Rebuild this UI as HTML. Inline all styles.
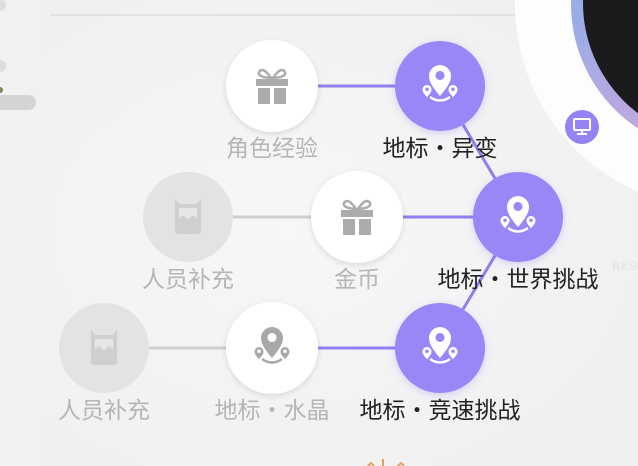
<!DOCTYPE html>
<html><head><meta charset="utf-8"><style>
html,body{margin:0;padding:0;width:638px;height:466px;overflow:hidden;background:#f3f3f4}
text{font-family:"Liberation Sans","Noto Sans CJK SC",sans-serif;font-size:23px;text-anchor:middle}
</style></head><body>
<svg width="638" height="466" viewBox="0 0 638 466" xmlns="http://www.w3.org/2000/svg">
<defs>
<radialGradient id="bg" cx="0.45" cy="0.5" r="0.7"><stop offset="0" stop-color="#f7f7f8"/><stop offset="1" stop-color="#efeff0"/></radialGradient>
<linearGradient id="ring" x1="0" y1="0" x2="0.6" y2="1"><stop offset="0" stop-color="#6fb4ef"/><stop offset="1" stop-color="#d7a3dc"/></linearGradient>
<filter id="sh" x="-30%" y="-30%" width="160%" height="160%"><feDropShadow dx="0" dy="2" stdDeviation="3" flood-color="#000" flood-opacity="0.12"/></filter>
<filter id="shp" x="-30%" y="-30%" width="160%" height="160%"><feDropShadow dx="0" dy="2" stdDeviation="4" flood-color="#8a70f0" flood-opacity="0.3"/></filter>
<g id="pin">
<path fill-rule="evenodd" stroke="none" d="M0,-21 a11,11 0 0 1 11,11 c0,7 -6,14 -11,20 c-5,-6 -11,-13 -11,-20 a11,11 0 0 1 11,-11z M0,-15 a4.5,4.5 0 1 0 0.01,0z"/>
<path fill-rule="evenodd" stroke="none" d="M-13,-1 a4.5,4.5 0 0 1 4.5,4.5 c0,3 -2.5,5 -4.5,8 c-2,-3 -4.5,-5 -4.5,-8 a4.5,4.5 0 0 1 4.5,-4.5z M-13,1.5 a1.8,1.8 0 1 0 0.01,0z"/>
<path fill-rule="evenodd" stroke="none" d="M13,-1 a4.5,4.5 0 0 1 4.5,4.5 c0,3 -2.5,5 -4.5,8 c-2,-3 -4.5,-5 -4.5,-8 a4.5,4.5 0 0 1 4.5,-4.5z M13,1.5 a1.8,1.8 0 1 0 0.01,0z"/>
<path d="M-10,11 q10,7 20,0" fill="none" stroke-width="2.4"/>
</g>
<g id="gift" fill="#acacac">
<rect x="-16" y="-7" width="32" height="7"/>
<rect x="-14" y="2" width="12" height="16"/><rect x="2" y="2" width="12" height="16"/>
<path d="M-1,-8 q-8,-12 -12,-6 q-2,5 12,6z M1,-8 q8,-12 12,-6 q2,5 -12,6z" fill="none" stroke="#acacac" stroke-width="2.5"/>
</g>
<g id="card" fill="#cfcfcf">
<path d="M-13,-18 l4,5 h18 l4,-5 v32 a3,3 0 0 1 -3,3 h-20 a3,3 0 0 1 -3,-3z"/>
<rect x="-9" y="-9" width="18" height="20" fill="#e6e6e6"/>
<path d="M-9,11 v-9 l4,-4 l4,4 h2 l4,-4 l4,4 v9z" fill="#cfcfcf"/>
</g>
</defs>
<rect width="638" height="466" fill="url(#bg)"/>
<rect x="0" y="0" width="42" height="466" fill="#f1f1f2"/>
<circle cx="0" cy="5" r="6" fill="#ddd"/>
<circle cx="0" cy="66" r="6" fill="#ddd"/>
<rect x="-10" y="95" width="46" height="15" rx="7.5" fill="#d4d4d4"/>
<circle cx="0" cy="90" r="3" fill="#7a8a50"/>
<line x1="50" y1="15" x2="638" y2="15" stroke="#dcdcde" stroke-width="1.5"/>
<!-- top right -->
<circle cx="720" cy="4" r="205" fill="#fdfdfd"/>
<circle cx="720" cy="4" r="149" fill="url(#ring)"/>
<circle cx="721" cy="3" r="138" fill="#1b1a1c"/>
<circle cx="582" cy="127" r="17" fill="#9383f3"/>
<rect x="574" y="119" width="16" height="11" rx="1" fill="none" stroke="#fff" stroke-width="2"/>
<line x1="577" y1="134" x2="587" y2="134" stroke="#fff" stroke-width="2"/>
<line x1="582" y1="130" x2="582" y2="134" stroke="#fff" stroke-width="2"/>
<text x="612" y="270" style="font-family:'Liberation Serif',serif;font-size:13px;fill:#e2e2e2;text-anchor:start">RESC</text>
<!-- connectors -->
<g stroke-width="3">
<line x1="272" y1="86" x2="440" y2="86" stroke="#8f7ff0"/>
<line x1="440" y1="86" x2="518" y2="217" stroke="#8f7ff0"/>
<line x1="188" y1="217" x2="357" y2="217" stroke="#cfcfd2"/>
<line x1="357" y1="217" x2="518" y2="217" stroke="#8f7ff0"/>
<line x1="518" y1="217" x2="440" y2="348" stroke="#8f7ff0"/>
<line x1="104" y1="348" x2="272" y2="348" stroke="#cfcfd2"/>
<line x1="272" y1="348" x2="440" y2="348" stroke="#8f7ff0"/>
</g>
<!-- nodes -->
<circle cx="272" cy="86" r="46" fill="#fff" filter="url(#sh)"/><use href="#gift" x="272" y="86"/>
<circle cx="440" cy="86" r="45" fill="#9a86f6" filter="url(#shp)"/><use href="#pin" x="440" y="86" fill="#fff" stroke="#fff"/>
<circle cx="188" cy="217" r="45" fill="#e3e3e4"/><use href="#card" x="188" y="217"/>
<circle cx="357" cy="217" r="46" fill="#fff" filter="url(#sh)"/><use href="#gift" x="357" y="217"/>
<circle cx="518" cy="217" r="45" fill="#9a86f6" filter="url(#shp)"/><use href="#pin" x="518" y="217" fill="#fff" stroke="#fff"/>
<circle cx="104" cy="348" r="45" fill="#e3e3e4"/><use href="#card" x="104" y="348"/>
<circle cx="272" cy="348" r="46" fill="#fff" filter="url(#sh)"/><use href="#pin" x="272" y="348" fill="#a8a8a8" stroke="#a8a8a8"/>
<circle cx="440" cy="348" r="45" fill="#9a86f6" filter="url(#shp)"/><use href="#pin" x="440" y="348" fill="#fff" stroke="#fff"/>
<!-- labels -->
<text x="272" y="156" fill="#b5b5b5">角色经验</text>
<text x="440" y="156" fill="#222">地标・异变</text>
<text x="188" y="287" fill="#b5b5b5">人员补充</text>
<text x="357" y="287" fill="#b5b5b5">金币</text>
<text x="518" y="287" fill="#222">地标・世界挑战</text>
<text x="104" y="418" fill="#b5b5b5">人员补充</text>
<text x="272" y="418" fill="#b5b5b5">地标・水晶</text>
<text x="440" y="418" fill="#222">地标・竞速挑战</text>
<path d="M368,466 l3,-3 l3,3 M383,466 v-7 M398,466 l3,-3 l3,3" stroke="#e8a060" stroke-width="2" fill="none"/>
</svg>
</body></html>
